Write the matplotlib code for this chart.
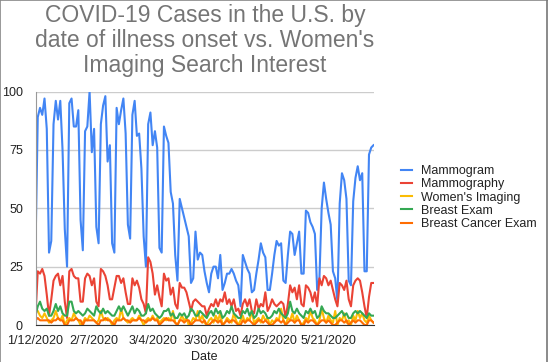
import matplotlib
matplotlib.use("Agg")
import matplotlib.pyplot as plt
import pandas as pd
from matplotlib.lines import Line2D

plt.rcParams['font.family'] = ['Liberation Sans', 'DejaVu Sans']

start_date = "2020-01-12"

mammogram = [
    32, 89, 93, 90, 97, 84, 31,
    36, 86, 96, 88, 96, 75, 41,
    25, 95, 97, 85, 85, 92, 45,
    32, 83, 85, 100, 74, 84, 42,
    35, 86, 94, 98, 70, 77, 35,
    31, 93, 86, 92, 97, 82, 43,
    37, 90, 96, 81, 82, 67, 38,
    25, 86, 91, 77, 83, 76, 33,
    31, 85, 81, 78, 57, 52, 30,
    19, 54, 50, 46, 42, 38, 18,
    20, 40, 28, 31, 30, 23, 18,
    14, 22, 25, 25, 20, 30, 15,
    18, 22, 22, 24, 22, 19, 17,
    8, 30, 27, 24, 22, 14, 15,
    22, 28, 35, 31, 29, 15, 15,
    22, 30, 36, 34, 35, 19, 18,
    30, 40, 39, 30, 35, 40, 22,
    22, 49, 48, 44, 42, 39, 15,
    20, 50, 61, 54, 48, 43, 23,
    20, 10, 52, 65, 62, 54, 19,
    17, 53, 63, 68, 62, 65, 23,
    23, 73, 76, 77,
]

mammography = [
    4, 23, 22, 24, 21, 13, 4,
    11, 19, 21, 22, 17, 21, 10,
    3, 23, 24, 21, 20, 20, 10,
    10, 20, 22, 21, 17, 20, 10,
    8, 24, 23, 21, 17, 11, 11,
    16, 21, 21, 18, 20, 14, 9,
    9, 20, 17, 19, 16, 11, 9,
    5, 29, 27, 22, 13, 17, 12,
    8, 22, 19, 20, 13, 16, 9,
    7, 18, 16, 16, 14, 10, 6,
    10, 11, 10, 9, 8, 8, 4,
    7, 9, 8, 11, 8, 11, 10,
    14, 9, 11, 8, 11, 6, 7,
    4, 9, 11, 8, 11, 6, 5,
    11, 7, 9, 8, 14, 6, 8,
    11, 9, 8, 9, 10, 9, 3,
    9, 17, 14, 16, 11, 17, 9,
    8, 17, 16, 14, 10, 14, 8,
    20, 17, 21, 20, 17, 19, 15,
    11, 8, 18, 17, 15, 19, 11,
    8, 17, 19, 20, 19, 14, 8,
    3, 12, 18, 18,
]

womens_imaging = [
    7, 6, 4, 3, 5, 3, 1,
    2, 3, 6, 3, 2, 4, 0,
    2, 3, 2, 5, 3, 2, 0,
    1, 3, 2, 4, 3, 2, 1,
    2, 6, 3, 2, 3, 2, 0,
    2, 3, 2, 7, 3, 2, 1,
    2, 3, 2, 2, 4, 2, 0,
    2, 3, 2, 4, 2, 3, 1,
    2, 3, 2, 3, 2, 6, 1,
    0, 2, 4, 2, 3, 0, 1,
    3, 2, 6, 2, 4, 1, 0,
    2, 3, 1, 4, 2, 5, 0,
    1, 3, 2, 1, 5, 2, 0,
    2, 4, 1, 3, 2, 6, 1,
    2, 3, 1, 4, 2, 3, 0,
    2, 1, 3, 2, 7, 2, 0,
    3, 2, 5, 1, 4, 2, 0,
    1, 3, 2, 6, 3, 2, 0,
    2, 7, 3, 1, 4, 2, 1,
    6, 0, 3, 2, 5, 1, 2,
    0, 4, 2, 6, 3, 5, 2,
    1, 4, 2, 1,
]

breast_exam = [
    4, 8, 10, 7, 6, 7, 4,
    4, 6, 9, 6, 8, 5, 4,
    4, 10, 10, 6, 5, 6, 5,
    4, 5, 7, 6, 5, 4, 8,
    6, 5, 7, 5, 6, 5, 4,
    4, 6, 8, 6, 8, 6, 4,
    6, 8, 5, 7, 6, 4, 4,
    5, 9, 6, 7, 5, 4, 3,
    4, 6, 6, 7, 4, 5, 3,
    3, 5, 4, 5, 3, 4, 7,
    6, 4, 4, 6, 5, 4, 3,
    5, 6, 4, 7, 5, 6, 3,
    4, 6, 5, 8, 5, 4, 3,
    3, 6, 5, 7, 4, 6, 3,
    4, 7, 5, 6, 5, 3, 3,
    4, 6, 5, 7, 5, 4, 3,
    5, 10, 6, 5, 7, 5, 4,
    3, 6, 5, 7, 5, 6, 3,
    4, 8, 6, 5, 5, 4, 3,
    3, 4, 5, 6, 4, 5, 3,
    3, 5, 6, 5, 6, 5, 4,
    3, 5, 4, 4,
]

breast_cancer_exam = [
    2, 3, 2, 2, 2, 2, 2,
    1, 2, 2, 3, 2, 2, 0,
    0, 2, 2, 2, 3, 2, 2,
    0, 2, 2, 2, 2, 2, 1,
    0, 2, 2, 3, 2, 2, 1,
    0, 2, 2, 2, 3, 2, 2,
    1, 2, 2, 2, 3, 2, 2,
    1, 2, 2, 3, 2, 2, 0,
    1, 2, 3, 2, 2, 2, 1,
    0, 2, 2, 1, 2, 2, 0,
    1, 2, 2, 2, 1, 2, 0,
    0, 1, 2, 2, 1, 2, 0,
    1, 2, 1, 2, 2, 1, 0,
    0, 2, 1, 2, 2, 1, 0,
    1, 2, 2, 1, 2, 1, 0,
    0, 1, 2, 2, 1, 2, 0,
    1, 2, 2, 1, 2, 2, 0,
    0, 2, 1, 2, 2, 1, 0,
    1, 2, 2, 1, 2, 1, 0,
    0, 1, 2, 2, 1, 2, 0,
    1, 2, 1, 2, 2, 1, 0,
    0, 2, 2, 1,
]

series_names = ["Mammogram", "Mammography", "Women's Imaging", "Breast Exam", "Breast Cancer Exam"]
series_colors = ["#4285F4", "#EA4335", "#FBBC04", "#34A853", "#FF6D01"]
y_ticks = [0, 25, 50, 75, 100]

dates = pd.date_range(start_date, periods=len(mammogram), freq="D")
series = [mammogram, mammography, womens_imaging, breast_exam, breast_cancer_exam]

W, H = 548, 362
fig = plt.figure(figsize=(W / 100, H / 100), dpi=100)
ax = fig.add_axes([35.5 / W, 1 - 325 / H, (373.5 - 35.5) / W, (325 - 91.5) / H])

for vals, name, col in zip(series, series_names, series_colors):
    ax.plot(dates, vals, color=col, lw=1.5, label=name, solid_joinstyle="round")

ax.set_xlim(dates[0], dates[-1])
ax.set_ylim(0, 100)
ax.set_yticks(y_ticks)
ax.grid(axis="y", color="#cccccc", lw=1)
ax.set_axisbelow(True)

tick_dates = dates[::26]
ax.set_xticks(tick_dates)
ax.set_xticklabels([f"{d.month}/{d.day}/{d.year}" for d in tick_dates])
ax.tick_params(length=0, labelsize=9, colors="#222222")
ax.tick_params(axis="y", pad=9)
ax.tick_params(axis="x", pad=7)

for s in ["top", "right"]:
    ax.spines[s].set_visible(False)
ax.spines["bottom"].set_color("#333333")
ax.spines["left"].set_color("#999999")

ax.set_xlabel("Date", fontsize=9, color="#222222", labelpad=3)

fig.text(205 / W, 1 - 4 / H, "COVID-19 Cases in the U.S. by\ndate of illness onset vs. Women's\nImaging Search Interest",
         ha="center", va="top", fontsize=16.5, color="#757575", linespacing=1.12)

leg = ax.legend(loc="upper left", bbox_to_anchor=(401 / W, 1 - 165 / H), bbox_transform=fig.transFigure,
                frameon=False, fontsize=9, handlelength=0.85, handletextpad=0.75,
                labelspacing=0.1, borderpad=0, borderaxespad=0)
for t in leg.get_texts():
    t.set_color("#222222")

# screenshot border
fig.add_artist(Line2D([0, 0], [0, 1], transform=fig.transFigure, color="#888888", lw=1.2))
fig.add_artist(Line2D([0, 1], [1, 1], transform=fig.transFigure, color="#888888", lw=1.2))
fig.add_artist(Line2D([546.8 / W, 546.8 / W], [0, 1], transform=fig.transFigure, color="#777777", lw=1.2))

fig.savefig("out.png", dpi=100)
